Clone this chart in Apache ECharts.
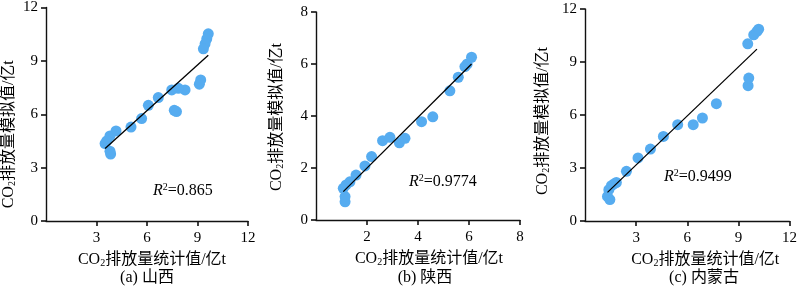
<!DOCTYPE html>
<html>
<head>
<meta charset="utf-8">
<script src="https://cdn.jsdelivr.net/npm/echarts@6/dist/echarts.min.js"></script>
<style>html,body{margin:0;padding:0;background:#fff}#c{width:800px;height:290px}</style>
</head>
<body>
<div id="c"></div>
<script>
// (a) 山西
const shanxiStat = [9.64, 9.55, 9.45, 9.35, 9.19, 9.11, 8.26, 7.86, 7.47, 7.62, 7.75, 6.67, 6.08, 5.68, 5.05, 4.16, 3.80, 3.61, 3.51, 3.84, 3.80];
const shanxiSim  = [10.52, 10.24, 9.96, 9.68, 7.93, 7.69, 7.37, 7.46, 7.37, 6.22, 6.15, 6.94, 6.50, 5.76, 5.28, 5.06, 4.78, 4.50, 4.35, 3.76, 3.92];
const shanxiFitX = [3.51, 9.64];
const shanxiFitY = [4.07, 9.32];
// (b) 陕西
const shaanxiStat = [1.14, 1.14, 1.07, 1.18, 1.33, 1.57, 1.92, 2.18, 2.61, 2.90, 3.27, 3.49, 4.14, 4.58, 5.25, 5.58, 5.84, 5.93, 6.10];
const shaanxiSim  = [0.70, 0.90, 1.22, 1.35, 1.47, 1.73, 2.08, 2.44, 3.05, 3.18, 2.97, 3.14, 3.78, 3.97, 4.97, 5.49, 5.90, 6.00, 6.26];
const shaanxiFitX = [1.07, 6.10];
const shaanxiFitY = [1.09, 6.00];
// (c) 内蒙古
const nmgStat = [1.46, 1.32, 1.40, 1.55, 1.70, 1.84, 2.43, 3.11, 3.84, 4.60, 5.44, 6.35, 6.89, 7.71, 9.57, 9.61, 9.55, 9.90, 10.09, 10.19];
const nmgSim  = [1.21, 1.39, 1.77, 2.00, 2.10, 2.18, 2.81, 3.57, 4.07, 4.79, 5.45, 5.45, 5.83, 6.64, 7.66, 8.09, 10.03, 10.54, 10.73, 10.86];
const nmgFitX = [1.32, 10.09];
const nmgFitY = [1.62, 9.73];

// axis ranges
const axisMax = [12, 8, 12];
const axisStep = [3, 2, 3];
const r2Labels = ['0.865', '0.9774', '0.9499'];
const panelTitles = ['(a) 山西', '(b) 陕西', '(c) 内蒙古'];
const xName = 'CO{s|2}排放量统计值/亿t';
const yName = 'CO{s|2}排放量模拟值/亿t';

const FONT = '"Liberation Serif", "Noto Sans CJK SC", serif';
const pairs = (xs, ys) => xs.map((x, i) => [x, ys[i]]);

const grids = [
  {left: 46, top: 4, width: 202, height: 217},
  {left: 316, top: 12, width: 204, height: 208},
  {left: 585, top: 9, width: 206, height: 212}
];
const xNamePad = [10, 22, 36];
const yNamePad = [40, 2, 12];
const yNameGap = [29, 31, 34];

const subRich = {s: {fontSize: 10, fontFamily: FONT, color: '#000', verticalAlign: 'bottom', lineHeight: 14}};

const xAxes = grids.map((g, i) => ({
  type: 'value', gridIndex: i, min: 0, max: axisMax[i], interval: axisStep[i],
  axisLine: {show: true, lineStyle: {color: '#111', width: 1.4}},
  axisTick: {show: true, length: 5, lineStyle: {color: '#111', width: 1.6}},
  splitLine: {show: false},
  axisLabel: {showMinLabel: false, color: '#000', fontFamily: FONT, fontSize: 15, margin: 10},
  name: xName, nameLocation: 'middle', nameGap: 31,
  nameTextStyle: {color: '#000', fontFamily: FONT, fontSize: 16, padding: [0, 0, 0, xNamePad[i]], rich: subRich}
}));
const yAxes = grids.map((g, i) => ({
  type: 'value', gridIndex: i, min: 0, max: axisMax[i], interval: axisStep[i],
  axisLine: {show: true, lineStyle: {color: '#111', width: 1.4}},
  axisTick: {show: true, length: 5, lineStyle: {color: '#111', width: 1.6}},
  splitLine: {show: false},
  axisLabel: {color: '#000', fontFamily: FONT, fontSize: 15, margin: 8},
  name: yName, nameLocation: 'middle', nameGap: yNameGap[i],
  nameTextStyle: {color: '#000', fontFamily: FONT, fontSize: 16, padding: [0, yNamePad[i], 0, 0], rich: subRich}
}));

const sets = [
  [shanxiStat, shanxiSim, shanxiFitX, shanxiFitY],
  [shaanxiStat, shaanxiSim, shaanxiFitX, shaanxiFitY],
  [nmgStat, nmgSim, nmgFitX, nmgFitY]
];
const series = [];
sets.forEach((s, i) => {
  series.push({
    type: 'scatter', xAxisIndex: i, yAxisIndex: i, symbolSize: 11,
    itemStyle: {color: '#56ACF0', opacity: 1}, data: pairs(s[0], s[1]), silent: true
  });
  series.push({
    type: 'line', xAxisIndex: i, yAxisIndex: i, symbol: 'none', silent: true,
    lineStyle: {color: '#000', width: 1.3}, data: pairs(s[2], s[3]), z: 3
  });
});

const r2Pos = [[153, 191], [409, 182], [664, 177]];
const titlePos = [[147, 278], [425, 278], [704, 278]];
const graphics = [];
r2Labels.forEach((v, i) => {
  graphics.push({
    type: 'text', x: r2Pos[i][0], y: r2Pos[i][1],
    style: {
      text: '{i|R}{p|2}=' + v, fill: '#000', fontFamily: FONT, fontSize: 16,
      align: 'left', verticalAlign: 'middle',
      rich: {i: {fontStyle: 'italic', fontFamily: FONT, fontSize: 16, fill: '#000'},
             p: {fontFamily: FONT, fontSize: 10, verticalAlign: 'top', fill: '#000', lineHeight: 18}}
    }
  });
  graphics.push({
    type: 'text', x: titlePos[i][0], y: titlePos[i][1],
    style: {text: panelTitles[i], fill: '#000', fontFamily: FONT, fontSize: 16, align: 'center', verticalAlign: 'middle'}
  });
});

const chart = echarts.init(document.getElementById('c'), null, {renderer: 'canvas'});
chart.setOption({
  animation: false,
  backgroundColor: '#fff',
  grid: grids,
  xAxis: xAxes,
  yAxis: yAxes,
  series: series,
  graphic: graphics
});
</script>
</body>
</html>
